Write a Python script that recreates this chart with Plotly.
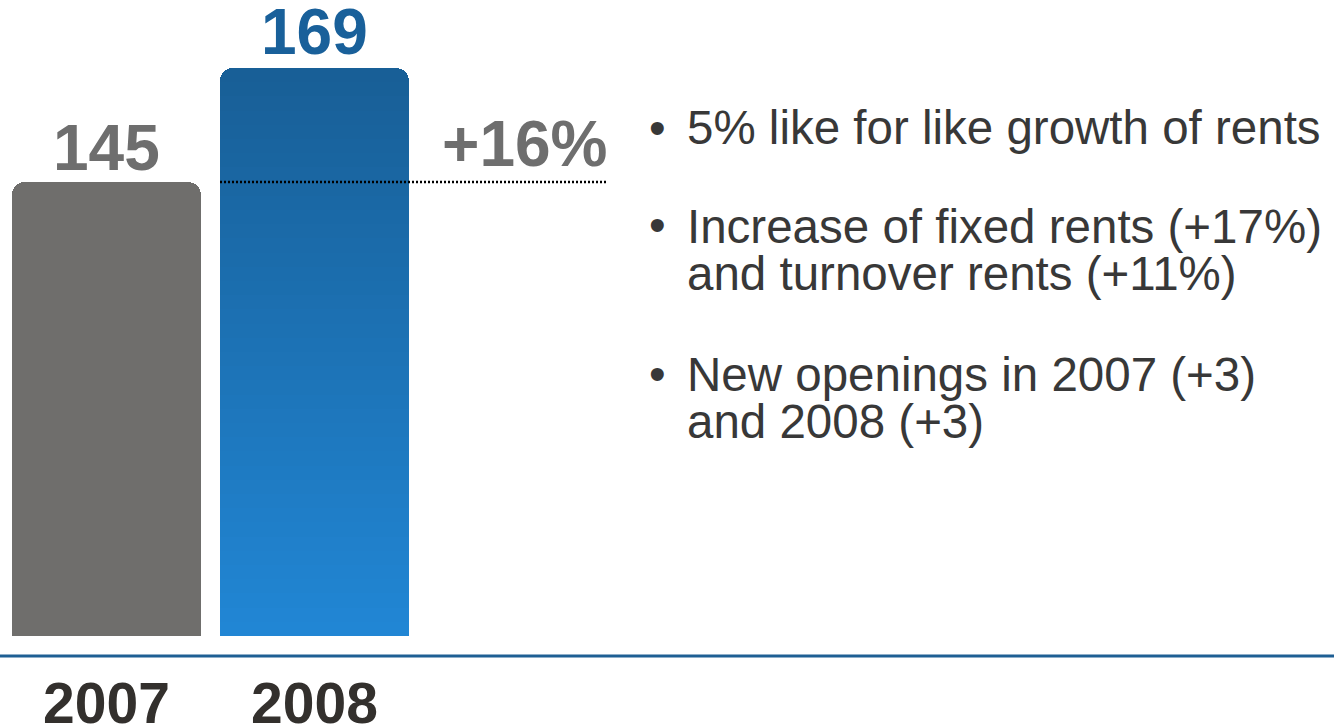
import numpy as np
import plotly.graph_objects as go

# ---- data -------------------------------------------------------------
years = ["2007", "2008"]
rents = [145, 169]
growth_label = "+16%"
bullet_points = [
    ["5% like for like growth of rents"],
    ["Increase of fixed rents (+17%)", "and turnover rents (+11%)"],
    ["New openings in 2007 (+3)", "and 2008 (+3)"],
]

# ---- styling / layout constants ---------------------------------------
W, H = 1334, 727
PLOT_BOTTOM = 636            # pixel row of the plot-area bottom
Y_RANGE = [49.4, 183.3]      # truncated value axis
PX_PER_CAT = 208.0
X0_PX = 106.5                # pixel centre of the first category
BAR_W = 0.9087
FONT = "Liberation Sans, Arial, sans-serif"
GREY = "#6f6e6c"
GREY_TXT = "#6e6e6e"
BLUE_TXT = "#19609a"
BLUE_TOP = np.array([24, 94, 150])
BLUE_BOTTOM = np.array([33, 135, 213])
BODY_TXT = "#383838"
YEAR_TXT = "#33302d"
N_SLICES = 40

x_range = [-X0_PX / PX_PER_CAT, (W - X0_PX) / PX_PER_CAT]


def px_to_x(px):
    return (px - X0_PX) / PX_PER_CAT


def py_to_paper(py):
    return (PLOT_BOTTOM - py) / PLOT_BOTTOM


fig = go.Figure()

# 2007 bar: plain grey
fig.add_trace(go.Bar(x=[0], y=[rents[0]], width=BAR_W,
                     marker=dict(color=GREY, line=dict(width=0)),
                     hoverinfo="skip", showlegend=False))

# 2008 bar: stacked slices shaded as a vertical gradient
lo, top = Y_RANGE[0], rents[1]
edges = np.concatenate([[0.0], np.linspace(lo, top, N_SLICES + 1)])
for a, b in zip(edges[:-1], edges[1:]):
    t = np.clip(((a + b) / 2 - lo) / (top - lo), 0, 1)
    rgb = BLUE_BOTTOM + (BLUE_TOP - BLUE_BOTTOM) * t
    col = "rgb({:.0f},{:.0f},{:.0f})".format(*rgb)
    fig.add_trace(go.Bar(x=[1], y=[b - a], width=BAR_W,
                         marker=dict(color=col, line=dict(width=0)),
                         hoverinfo="skip", showlegend=False))

annotations = []
# value labels above the bars
annotations.append(dict(x=0, y=rents[0], xref="x", yref="y", text=str(rents[0]),
                        showarrow=False, yanchor="middle", yshift=34,
                        font=dict(family=FONT, size=64, color=GREY_TXT, weight="bold")))
annotations.append(dict(x=1, y=rents[1], xref="x", yref="y", text=str(rents[1]),
                        showarrow=False, yanchor="middle", yshift=36,
                        font=dict(family=FONT, size=64, color=BLUE_TXT, weight="bold")))
# growth label over the reference line
line_end = px_to_x(607)
annotations.append(dict(x=px_to_x(609), y=rents[0], xref="x", yref="y", text=growth_label,
                        showarrow=False, xanchor="right", yanchor="middle", yshift=38,
                        font=dict(family=FONT, size=64, color=GREY_TXT, weight="bold")))

# bullet list
baselines = [[144], [242, 289], [390, 437]]
BODY_SIZE = 47.5
for lines, bls in zip(bullet_points, baselines):
    annotations.append(dict(x=657 / W, y=py_to_paper(bls[0] - 17), xref="paper", yref="paper",
                            text="•", showarrow=False, xanchor="center", yanchor="middle",
                            font=dict(family=FONT, size=BODY_SIZE, color=BODY_TXT)))
    for txt, bl in zip(lines, bls):
        annotations.append(dict(x=685 / W, y=py_to_paper(bl - 16), xref="paper", yref="paper",
                                text=txt, showarrow=False, xanchor="left", yanchor="middle",
                                font=dict(family=FONT, size=BODY_SIZE, color=BODY_TXT)))

shapes = [
    # dotted reference line at the 2007 level
    dict(type="line", xref="x", yref="y", x0=1 - BAR_W / 2, x1=line_end,
         y0=rents[0], y1=rents[0], line=dict(color="#000000", width=2.5, dash="2px,2px")),
    # baseline rule
    dict(type="line", xref="paper", yref="paper", x0=0, x1=1,
         y0=py_to_paper(656), y1=py_to_paper(656), line=dict(color="#1e5f94", width=3)),
]

fig.update_layout(
    width=W, height=H,
    margin=dict(l=0, r=0, t=0, b=H - PLOT_BOTTOM, pad=0, autoexpand=False),
    paper_bgcolor="white", plot_bgcolor="white",
    barmode="stack", barcornerradius=13, bargap=0,
    showlegend=False,
    annotations=annotations, shapes=shapes,
    xaxis=dict(range=x_range, tickvals=[0, 1], ticktext=years, showgrid=False,
               zeroline=False, showline=False, ticks="", ticklabelstandoff=29,
               automargin=False,
               tickfont=dict(family=FONT, size=57, color=YEAR_TXT, weight="bold"),
               fixedrange=True),
    yaxis=dict(range=Y_RANGE, visible=False, showgrid=False, zeroline=False,
               automargin=False, fixedrange=True),
)

fig.write_html("out.html", config={"displayModeBar": False})
